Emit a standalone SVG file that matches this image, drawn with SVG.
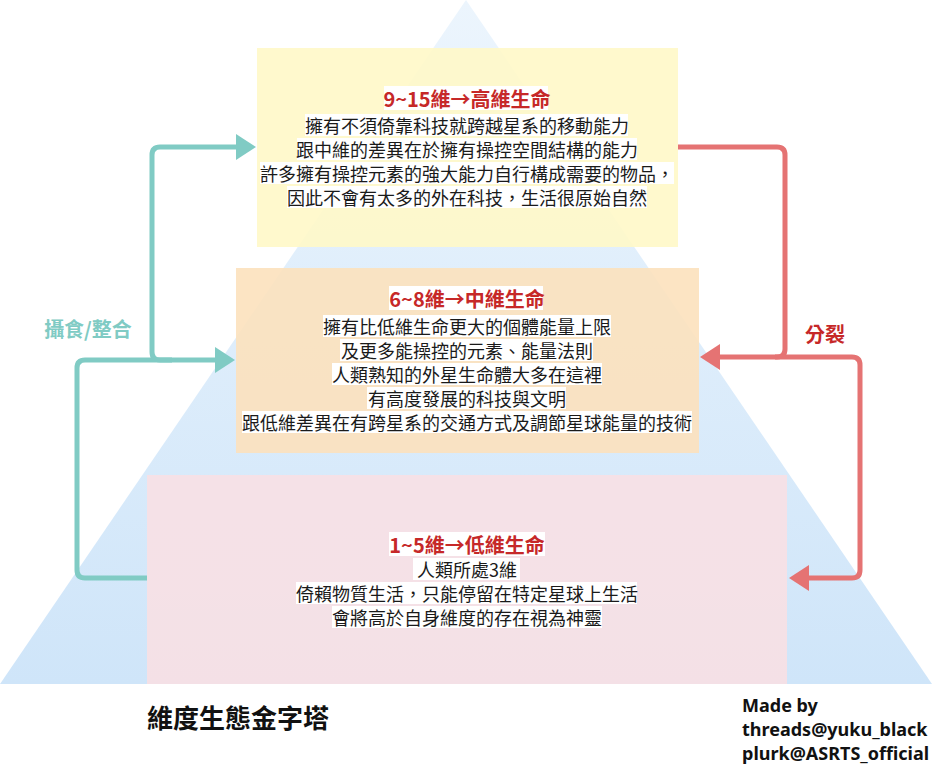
<svg xmlns="http://www.w3.org/2000/svg" width="932" height="765" viewBox="0 0 932 765">
<defs>
<linearGradient id="tri" x1="0" y1="0" x2="0" y2="1">
<stop offset="0" stop-color="#ecf5fd"/>
<stop offset="1" stop-color="#cfe5f9"/>
</linearGradient>
<marker id="ahT" markerUnits="userSpaceOnUse" markerWidth="22" markerHeight="28" refX="1" refY="13" orient="auto">
<path d="M0,0 L20,13 L0,26 z" fill="#80cbc4"/>
</marker>
<marker id="ahR" markerUnits="userSpaceOnUse" markerWidth="22" markerHeight="28" refX="1" refY="13" orient="auto">
<path d="M0,0 L20,13 L0,26 z" fill="#e57373"/>
</marker>
</defs>
<style>
.t { font-family: "Noto Sans CJK TC", "Noto Sans", sans-serif; font-size: 18px; fill: #1a1a1a; text-anchor: middle; dominant-baseline: central; }
.h { font-weight: bold; fill: #c62828; font-size: 20px; }
.bg { fill: #ffffff; }
.teal { stroke: #80cbc4; stroke-width: 5; fill: none; }
.red { stroke: #e57373; stroke-width: 5; fill: none; }
.lbl { font-family: "Noto Sans CJK TC", "Noto Sans", sans-serif; font-weight: bold; font-size: 20px; text-anchor: middle; dominant-baseline: central; }
.cr { font-family: "Noto Sans", "Open Sans", sans-serif; font-weight: bold; font-size: 18px; fill: #111; dominant-baseline: central; }
</style>
<rect width="932" height="765" fill="#ffffff"/>
<polygon id="pyramid" points="466,0 932,684 0,684" fill="url(#tri)"/>

<g id="connectors">
<path class="teal" d="M147,578 H85 Q77,578 77,570 V368 Q77,360 85,360 H216" marker-end="url(#ahT)"/>
<path class="teal" d="M172,360 H160 Q152,360 152,352 V155 Q152,147 160,147 H237" marker-end="url(#ahT)"/>
<path class="red" d="M678,147 H777 Q785,147 785,155 V349 Q785,357 777,357 H719" marker-end="url(#ahR)"/>
<path class="red" d="M775,357 H852 Q860,357 860,365 V570 Q860,578 852,578 H808" marker-end="url(#ahR)"/>
<text class="lbl" x="88" y="328" fill="#80cbc4">攝食/整合</text>
<text class="lbl" x="825" y="333" fill="#c62828">分裂</text>
</g>

<g id="high">
<rect x="257" y="48" width="421" height="199" fill="#fff8c8" fill-opacity="0.9"/>
<rect class="bg" x="384" y="86" width="164" height="24"/>
<rect class="bg" x="305" y="114" width="323" height="22"/>
<rect class="bg" x="297" y="138" width="340" height="22"/>
<rect class="bg" x="260" y="162" width="414" height="22"/>
<rect class="bg" x="287" y="186" width="360" height="22"/>
<text class="t h" x="467" y="98">9~15維→高維生命</text>
<text class="t" x="467" y="125">擁有不須倚靠科技就跨越星系的移動能力</text>
<text class="t" x="467" y="149">跟中維的差異在於擁有操控空間結構的能力</text>
<text class="t" x="467" y="173">許多擁有操控元素的強大能力自行構成需要的物品，</text>
<text class="t" x="467" y="197">因此不會有太多的外在科技，生活很原始自然</text>
</g>

<g id="mid">
<rect x="236" y="268" width="463" height="185" fill="#fce1bc" fill-opacity="0.9"/>
<rect class="bg" x="389" y="286" width="154" height="24"/>
<rect class="bg" x="323" y="315" width="288" height="22"/>
<rect class="bg" x="340" y="339" width="253" height="22"/>
<rect class="bg" x="332" y="363" width="270" height="22"/>
<rect class="bg" x="367" y="387" width="199" height="22"/>
<rect class="bg" x="242" y="411" width="450" height="22"/>
<text class="t h" x="467" y="298">6~8維→中維生命</text>
<text class="t" x="467" y="326">擁有比低維生命更大的個體能量上限</text>
<text class="t" x="467" y="350">及更多能操控的元素、能量法則</text>
<text class="t" x="467" y="374">人類熟知的外星生命體大多在這裡</text>
<text class="t" x="467" y="398">有高度發展的科技與文明</text>
<text class="t" x="467" y="422">跟低維差異在有跨星系的交通方式及調節星球能量的技術</text>
</g>

<g id="low">
<rect x="147" y="475" width="640" height="209" fill="#fadfe3" fill-opacity="0.85"/>
<rect class="bg" x="389" y="532" width="156" height="24"/>
<rect class="bg" x="413" y="558" width="107" height="22"/>
<rect class="bg" x="296" y="582" width="341" height="22"/>
<rect class="bg" x="332" y="606" width="270" height="22"/>
<text class="t h" x="467" y="544">1~5維→低維生命</text>
<text class="t" x="467" y="569">人類所處3維</text>
<text class="t" x="467" y="593">倚賴物質生活，只能停留在特定星球上生活</text>
<text class="t" x="467" y="617">會將高於自身維度的存在視為神靈</text>
</g>

<g id="title">
<text x="147" y="716" font-family="Noto Sans CJK TC, sans-serif" font-weight="bold" font-size="26" fill="#111" dominant-baseline="central">維度生態金字塔</text>
</g>
<g id="credits">
<text class="cr" x="742" y="705">Made by</text>
<text class="cr" x="742" y="729">threads@yuku_black</text>
<text class="cr" x="742" y="753">plurk@ASRTS_official</text>
</g>
</svg>
